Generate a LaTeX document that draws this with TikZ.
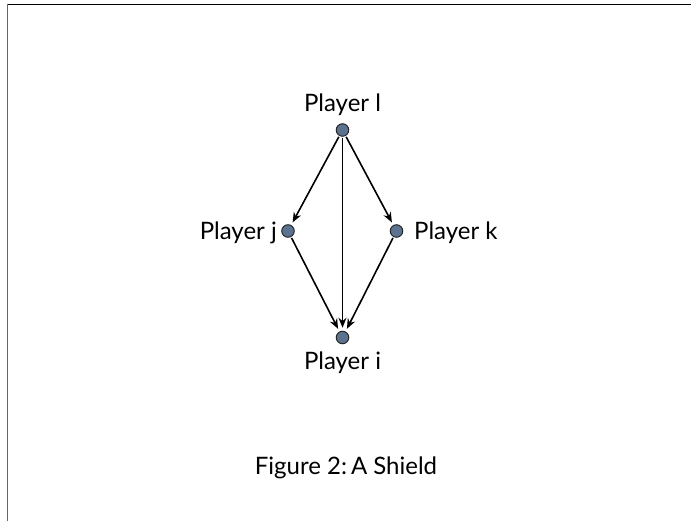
\documentclass[tikz,border=0pt]{standalone}
\usepackage{fontspec}
\setmainfont{Lato}
\usetikzlibrary{arrows.meta}
\definecolor{dotfill}{RGB}{92,114,145}
\begin{document}
\begin{tikzpicture}[x=1pt,y=-1pt,
  dot/.style={circle,draw=black!85,line width=1pt,fill=dotfill,minimum size=12.5pt,inner sep=0pt},
  lbl/.style={font=\fontsize{24}{27}\selectfont,inner sep=0pt},
  arr/.style={-{Stealth[length=10pt,width=8pt]},line width=1.6pt,shorten >=3pt,shorten <=1pt}]
\useasboundingbox (0,0) rectangle (691,521);
\draw[line width=1.4pt] (7,4.5) -- (691,4.5);
\draw[line width=1pt,black!60] (7.5,4) -- (7.5,521);
\node[dot] (l) at (342.5,130) {};
\node[dot] (j) at (288,231) {};
\node[dot] (k) at (396.5,231) {};
\node[dot] (i) at (342.5,337.5) {};
\node[lbl,anchor=base] (tl) at (342.5,112) {Player l};
\node[lbl,anchor=base east] (tj) at (277,240) {Player j};
\node[lbl,anchor=base west] (tk) at (414,240) {Player k};
\node[lbl,anchor=base] (ti) at (342.5,370) {Player i};
\node[lbl,anchor=base] (cap) at (346,474) {Figure 2:\,A Shield};
\draw[arr] (l) -- (j);
\draw[arr] (l) -- (k);
\draw[arr] (l) -- (i);
\draw[arr] (j) -- (i);
\draw[arr] (k) -- (i);
\end{tikzpicture}
\end{document}
